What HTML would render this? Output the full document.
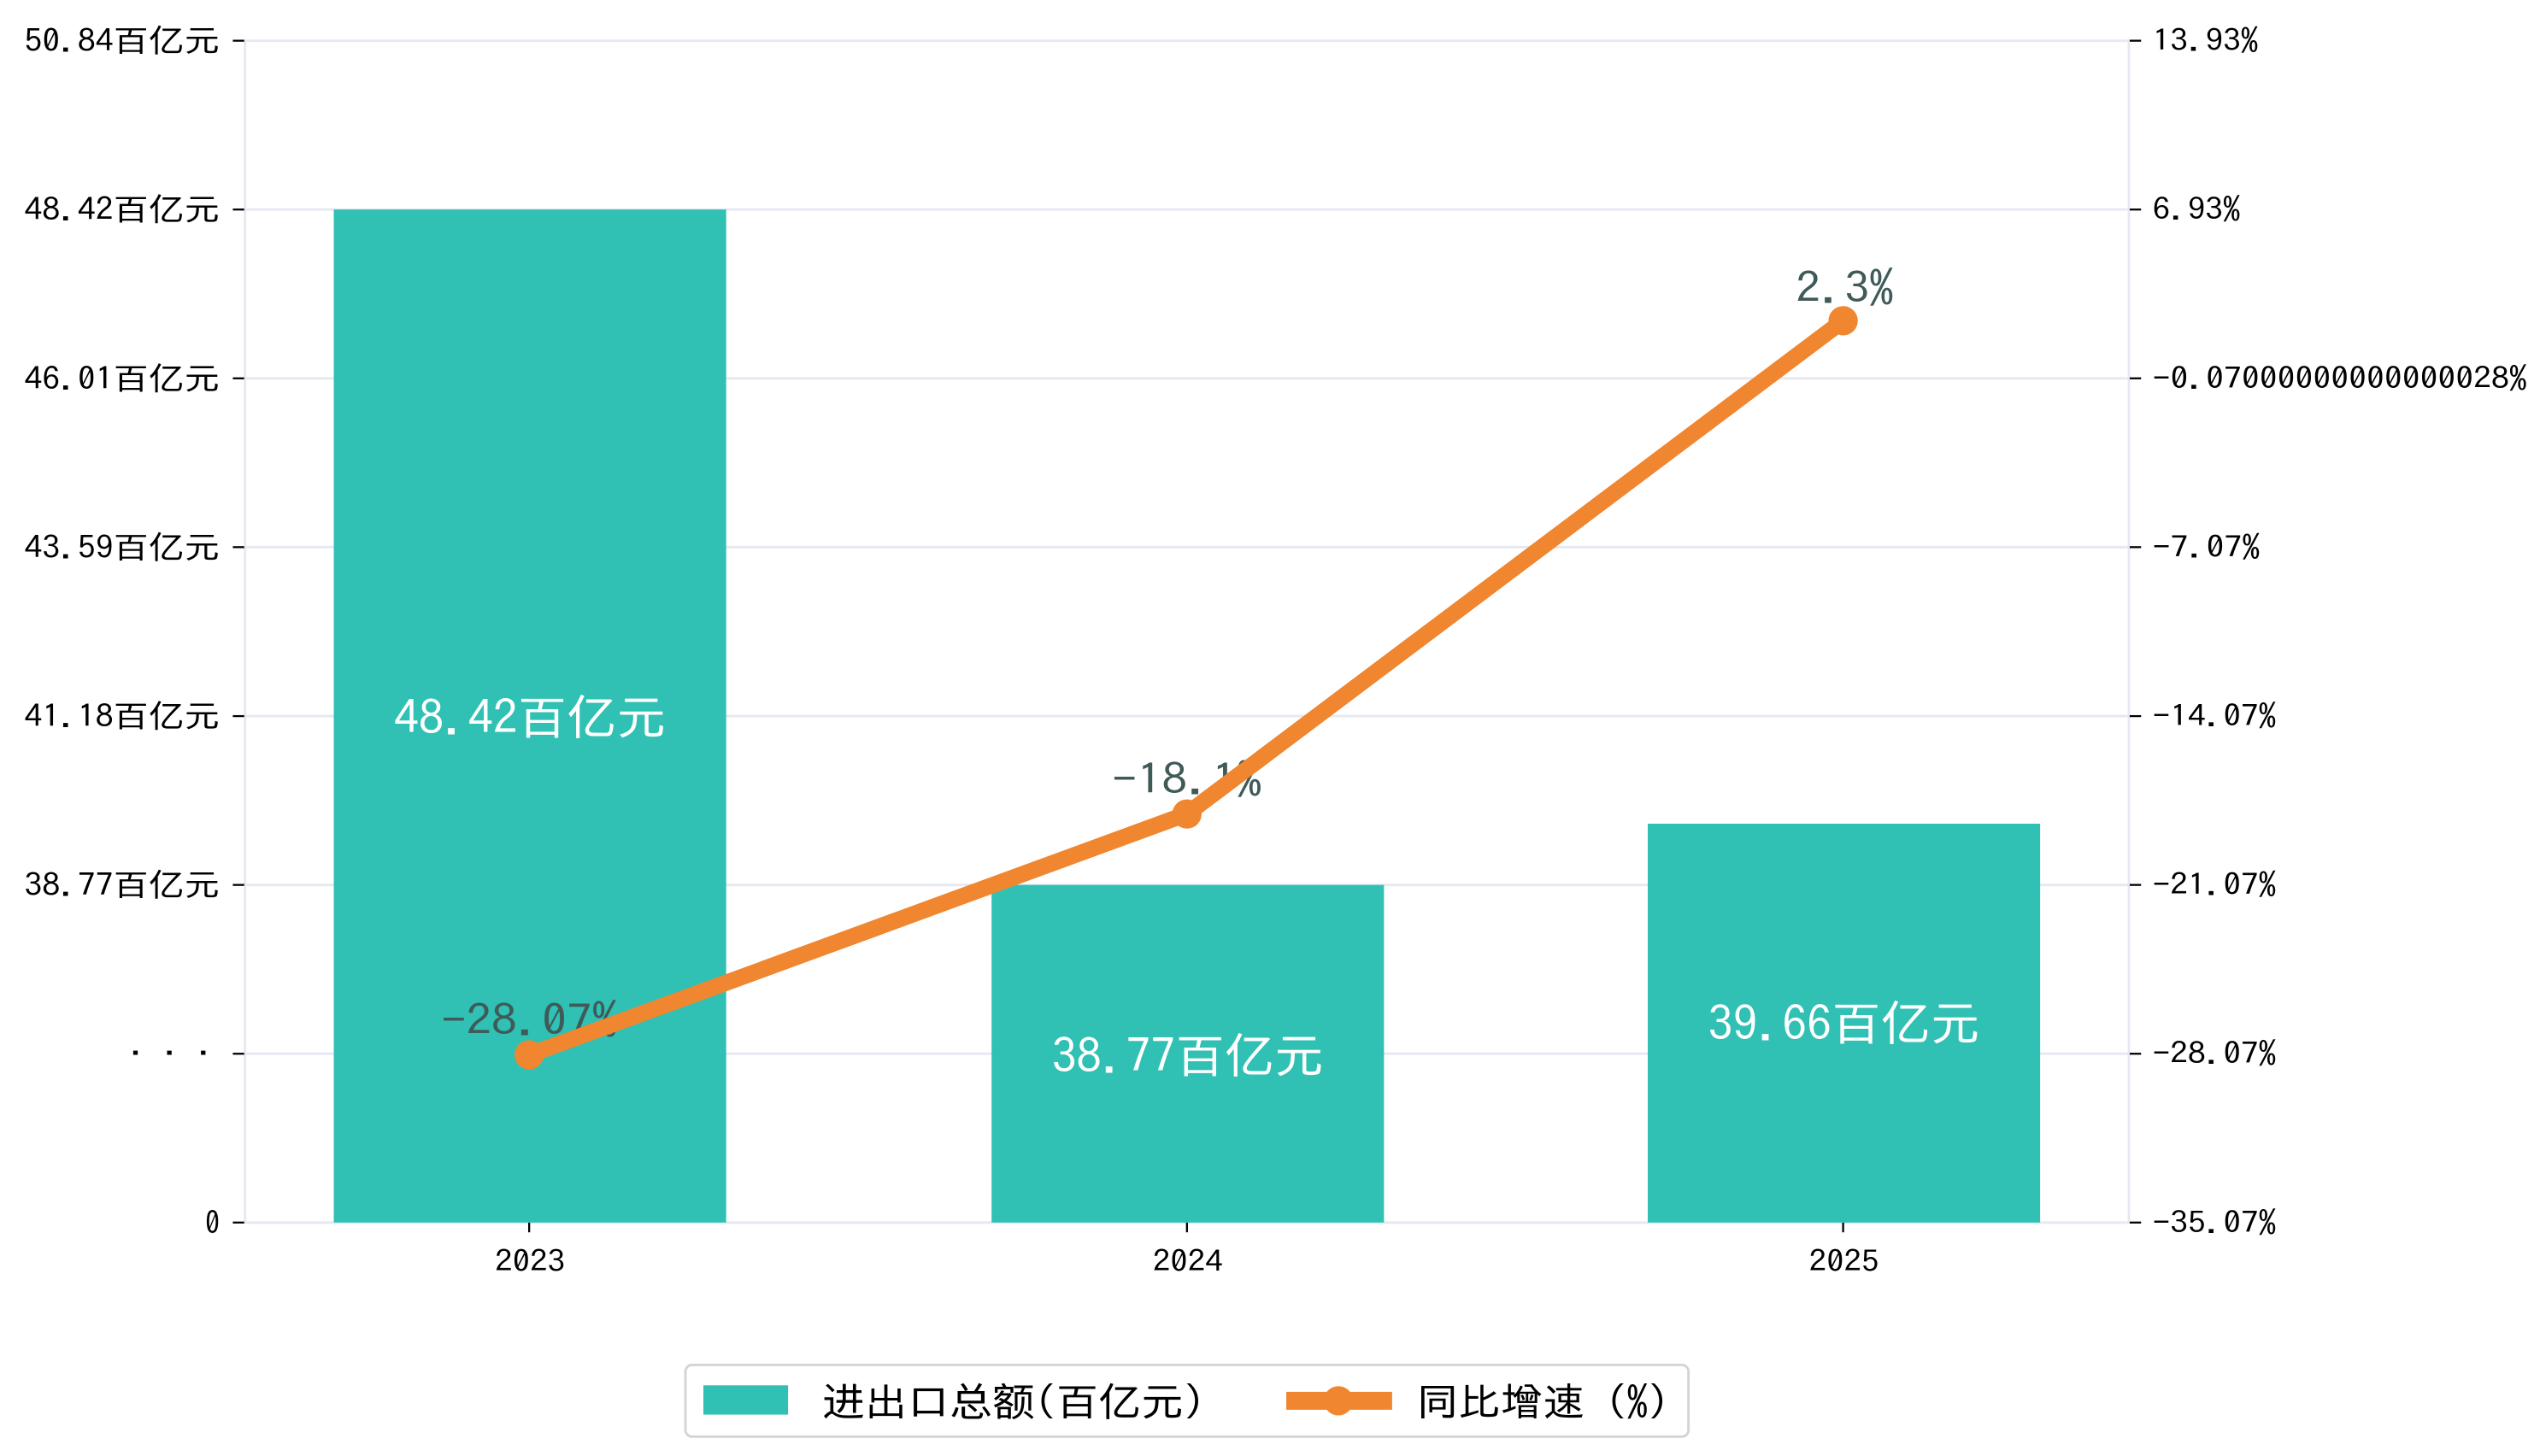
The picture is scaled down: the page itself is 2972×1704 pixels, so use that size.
<!DOCTYPE html>
<html><head><meta charset="utf-8"><style>
html,body{margin:0;padding:0;background:#fff;}
svg{display:block;}
text{font-family:"IPAGothic","Liberation Sans","Noto Sans CJK JP",sans-serif;}
</style></head><body>
<svg width="2972" height="1704" viewBox="0 0 1560 894.4" xmlns="http://www.w3.org/2000/svg">
<rect width="1560" height="894.4" fill="#fff"/>
<g stroke="#e6e8f2" stroke-width="1.5">
<line x1="150" y1="25" x2="1308" y2="25"/>
<line x1="150" y1="128.7" x2="1308" y2="128.7"/>
<line x1="150" y1="232.4" x2="1308" y2="232.4"/>
<line x1="150" y1="336.1" x2="1308" y2="336.1"/>
<line x1="150" y1="439.9" x2="1308" y2="439.9"/>
<line x1="150" y1="543.6" x2="1308" y2="543.6"/>
<line x1="150" y1="647.3" x2="1308" y2="647.3"/>
<line x1="150" y1="751" x2="1308" y2="751"/>
<line x1="150.5" y1="25" x2="150.5" y2="751"/>
<line x1="1307.5" y1="25" x2="1307.5" y2="751"/>
</g>
<g stroke="#000" stroke-width="1.2">
<line x1="143" y1="25" x2="150" y2="25"/><line x1="143" y1="128.7" x2="150" y2="128.7"/>
<line x1="143" y1="232.4" x2="150" y2="232.4"/><line x1="143" y1="336.1" x2="150" y2="336.1"/>
<line x1="143" y1="439.9" x2="150" y2="439.9"/><line x1="143" y1="543.6" x2="150" y2="543.6"/>
<line x1="143" y1="647.3" x2="150" y2="647.3"/><line x1="143" y1="751" x2="150" y2="751"/>
<line x1="1308" y1="25" x2="1315" y2="25"/><line x1="1308" y1="128.7" x2="1315" y2="128.7"/>
<line x1="1308" y1="232.4" x2="1315" y2="232.4"/><line x1="1308" y1="336.1" x2="1315" y2="336.1"/>
<line x1="1308" y1="439.9" x2="1315" y2="439.9"/><line x1="1308" y1="543.6" x2="1315" y2="543.6"/>
<line x1="1308" y1="647.3" x2="1315" y2="647.3"/><line x1="1308" y1="751" x2="1315" y2="751"/>
<line x1="325" y1="751" x2="325" y2="757"/><line x1="729" y1="751" x2="729" y2="757"/><line x1="1132" y1="751" x2="1132" y2="757"/>
</g>
<g font-size="19" fill="#000" dominant-baseline="central" lengthAdjust="spacingAndGlyphs">
<text x="15" y="25" textLength="120" lengthAdjust="spacingAndGlyphs">50.84百亿元</text>
<text x="15" y="128.7" textLength="120" lengthAdjust="spacingAndGlyphs">48.42百亿元</text>
<text x="15" y="232.4" textLength="120" lengthAdjust="spacingAndGlyphs">46.01百亿元</text>
<text x="15" y="336.1" textLength="120" lengthAdjust="spacingAndGlyphs">43.59百亿元</text>
<text x="15" y="439.9" textLength="120" lengthAdjust="spacingAndGlyphs">41.18百亿元</text>
<text x="15" y="543.6" textLength="120" lengthAdjust="spacingAndGlyphs">38.77百亿元</text>
<text x="78" y="647.3" textLength="52" lengthAdjust="spacingAndGlyphs">· · ·</text>
<text x="126" y="751" textLength="9" lengthAdjust="spacingAndGlyphs">0</text>
</g>
<g font-size="18" fill="#000" dominant-baseline="central">
<text x="1322" y="25" textLength="65" lengthAdjust="spacingAndGlyphs">13.93%</text>
<text x="1322" y="128.7" textLength="54" lengthAdjust="spacingAndGlyphs">6.93%</text>
<text x="1322" y="232.4" textLength="230" lengthAdjust="spacingAndGlyphs">-0.07000000000000028%</text>
<text x="1322" y="336.1" textLength="66" lengthAdjust="spacingAndGlyphs">-7.07%</text>
<text x="1322" y="439.9" textLength="76" lengthAdjust="spacingAndGlyphs">-14.07%</text>
<text x="1322" y="543.6" textLength="76" lengthAdjust="spacingAndGlyphs">-21.07%</text>
<text x="1322" y="647.3" textLength="76" lengthAdjust="spacingAndGlyphs">-28.07%</text>
<text x="1322" y="751" textLength="76" lengthAdjust="spacingAndGlyphs">-35.07%</text>
</g>
<g font-size="18" fill="#000" dominant-baseline="central">
<text x="304" y="775" textLength="43" lengthAdjust="spacingAndGlyphs">2023</text>
<text x="708" y="775" textLength="43" lengthAdjust="spacingAndGlyphs">2024</text>
<text x="1111" y="775" textLength="43" lengthAdjust="spacingAndGlyphs">2025</text>
</g>
<g fill="#30c0b4">
<rect x="205" y="128.7" width="241" height="622.3"/>
<rect x="609" y="543.6" width="241" height="207.4"/>
<rect x="1012" y="506" width="241" height="245"/>
</g>
<g font-size="29" fill="#fff" dominant-baseline="central">
<text x="242" y="440" textLength="167" lengthAdjust="spacingAndGlyphs">48.42百亿元</text>
<text x="646" y="648" textLength="167" lengthAdjust="spacingAndGlyphs">38.77百亿元</text>
<text x="1049" y="628" textLength="167" lengthAdjust="spacingAndGlyphs">39.66百亿元</text>
</g>
<g font-size="26" fill="#3f5a58" dominant-baseline="central">
<text x="271" y="626" textLength="108" lengthAdjust="spacingAndGlyphs">-28.07%</text>
<text x="683" y="478" textLength="92" lengthAdjust="spacingAndGlyphs">-18.1%</text>
<text x="1103" y="176" textLength="60" lengthAdjust="spacingAndGlyphs">2.3%</text>
</g>
<polyline points="325,648 729,500 1132,197" fill="none" stroke="#f0862f" stroke-width="10" stroke-linejoin="round"/>
<g fill="#f0862f"><circle cx="325" cy="648" r="9"/><circle cx="729" cy="500" r="9"/><circle cx="1132" cy="197" r="9"/></g>
<rect x="421" y="838.5" width="616" height="44" rx="4" fill="#fff" stroke="#d4d4d4" stroke-width="1.5"/>
<rect x="432" y="851" width="52" height="18" fill="#30c0b4"/>
<text x="505" y="861" font-size="24" fill="#000" dominant-baseline="central" textLength="235" lengthAdjust="spacingAndGlyphs">进出口总额(百亿元)</text>
<rect x="790" y="855" width="65" height="11" fill="#f0862f"/>
<circle cx="822" cy="860.5" r="9" fill="#f0862f"/>
<text x="870" y="861" font-size="24" fill="#000" dominant-baseline="central" textLength="155" lengthAdjust="spacingAndGlyphs">同比增速 (%)</text>
</svg>
</body></html>
